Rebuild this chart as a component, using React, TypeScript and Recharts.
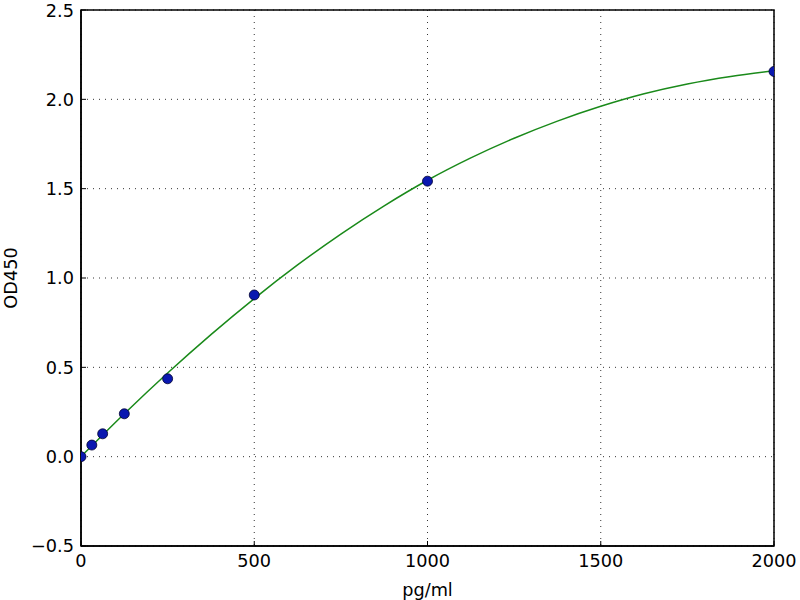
import React from 'react';
import { ComposedChart, Line, Scatter, XAxis, YAxis, CartesianGrid, Label, ReferenceArea } from 'recharts';

const concentrations = [0, 31.25, 62.5, 125, 250, 500, 1000, 2000];
const odValues = [0.0, 0.065, 0.128, 0.24, 0.436, 0.905, 1.542, 2.156];

const curveX = [0, 125, 250, 375, 500, 625, 750, 875, 1000, 1125, 1250, 1375, 1500, 1625, 1750, 1875, 2000];
const curveY = [0.0, 0.24, 0.468, 0.683, 0.885, 1.073, 1.246, 1.404, 1.547, 1.672, 1.782, 1.878, 1.961, 2.031, 2.086, 2.128, 2.16];

const xTicks = [0, 500, 1000, 1500, 2000];
const yTicks = [-0.5, 0.0, 0.5, 1.0, 1.5, 2.0, 2.5];

const points = concentrations.map((x, i) => ({ x, y: odValues[i] }));
const curve = curveX.map((x, i) => ({ x, y: curveY[i] }));

const FONT = 'DejaVu Sans, sans-serif';
const FS = 17.7;

const EmptyTick = () => <g />;

export default function App() {
  return (
    <div style={{ position: 'absolute', left: 0, top: 0, width: 800, height: 600, background: '#fff' }}>
      <ComposedChart width={800} height={600} margin={{ top: 9, right: 25, bottom: 4, left: 21 }}>
        <CartesianGrid
          xAxisId="b"
          yAxisId="l"
          stroke="#000"
          strokeDasharray="1 5"
          strokeWidth={1}
          strokeOpacity={0.8}
          horizontalValues={yTicks}
          verticalValues={xTicks}
        />
        <XAxis
          xAxisId="b"
          type="number"
          dataKey="x"
          domain={[0, 2000]}
          ticks={xTicks}
          allowDataOverflow
          height={50}
          stroke="#000"
          axisLine={{ stroke: '#000', strokeWidth: 1.5 }}
          tickLine={{ stroke: '#000' }}
          tickSize={-5}
          tickMargin={13}
          tick={{ fill: '#000', fontSize: FS, fontFamily: FONT }}
        >
          <Label value="pg/ml" position="insideBottom" offset={0} style={{ fill: '#000', fontSize: FS, fontFamily: FONT }} />
        </XAxis>
        <XAxis
          xAxisId="t"
          orientation="top"
          type="number"
          dataKey="x"
          domain={[0, 2000]}
          ticks={xTicks}
          height={1}
          axisLine={false}
          tickLine={{ stroke: '#000' }}
          tickSize={-5}
          tick={EmptyTick}
        />
        <YAxis
          yAxisId="l"
          type="number"
          domain={[-0.5, 2.5]}
          ticks={yTicks}
          allowDataOverflow
          width={60}
          axisLine={{ stroke: '#000', strokeWidth: 1.5 }}
          tickLine={{ stroke: '#000' }}
          tickSize={-5}
          tickMargin={12}
          tickFormatter={(v: number) => (v < 0 ? '\u2212' + Math.abs(v).toFixed(1) : v.toFixed(1))}
          tick={{ fill: '#000', fontSize: FS, fontFamily: FONT }}
        >
          <Label value="OD450" angle={-90} position="insideLeft" offset={-10} style={{ fill: '#000', fontSize: FS, fontFamily: FONT, textAnchor: 'middle' }} />
        </YAxis>
        <YAxis
          yAxisId="r"
          orientation="right"
          type="number"
          domain={[-0.5, 2.5]}
          ticks={yTicks}
          width={1}
          axisLine={false}
          tickLine={{ stroke: '#000' }}
          tickSize={-5}
          tick={EmptyTick}
        />
        <ReferenceArea
          xAxisId="b"
          yAxisId="l"
          x1={0}
          x2={2000}
          y1={-0.5}
          y2={2.5}
          fill="none"
          fillOpacity={0}
          stroke="#000"
          strokeWidth={1.5}
          strokeOpacity={1}
        />
        <Line
          xAxisId="b"
          yAxisId="l"
          data={curve}
          dataKey="y"
          type="monotone"
          stroke="#1a8a1a"
          strokeWidth={1.5}
          dot={false}
          isAnimationActive={false}
        />
        <Scatter
          xAxisId="b"
          yAxisId="l"
          data={points}
          dataKey="y"
          fill="#0a18b0"
          stroke="#000030"
          strokeWidth={0.8}
          shape={(p: any) => <circle cx={p.cx} cy={p.cy} r={5} fill="#0a18b0" stroke="#000030" strokeWidth={0.8} />}
          isAnimationActive={false}
        />
      </ComposedChart>
    </div>
  );
}
